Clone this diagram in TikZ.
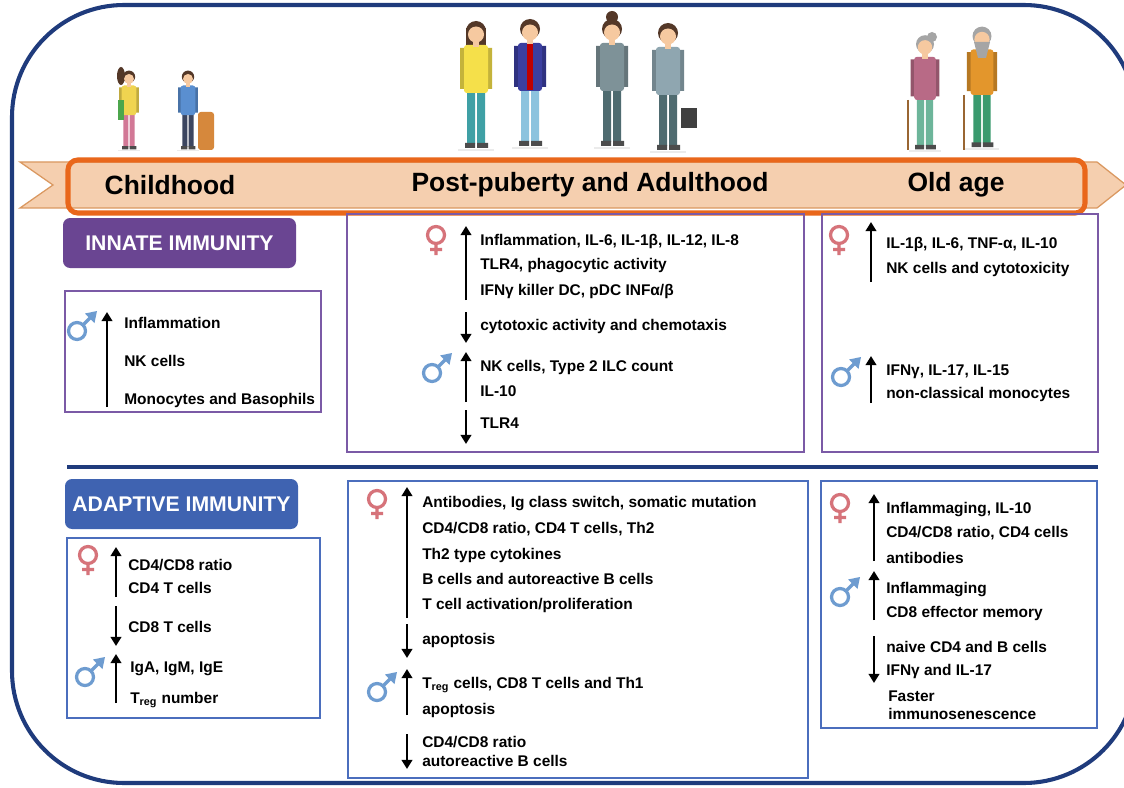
\documentclass[tikz,border=0pt]{standalone}
\usepackage{fontspec}
\setmainfont{Liberation Sans}
\usetikzlibrary{arrows.meta}

\definecolor{framenavy}{RGB}{31,59,124}
\definecolor{innatepurple}{RGB}{106,69,146}
\definecolor{innateedge}{RGB}{123,90,166}
\definecolor{adaptblue}{RGB}{63,99,177}
\definecolor{adaptedge}{RGB}{75,110,189}
\definecolor{ribbonfill}{RGB}{245,207,175}
\definecolor{ribbonedge}{RGB}{218,152,96}
\definecolor{stageorange}{RGB}{233,103,27}
\definecolor{femred}{RGB}{214,115,122}
\definecolor{malblue}{RGB}{110,156,208}
\definecolor{skin}{RGB}{246,201,160}
\definecolor{hairbrown}{RGB}{84,56,40}
\definecolor{hairgrey}{RGB}{165,165,165}
% clothes
\definecolor{girltop}{RGB}{240,212,80}
\definecolor{girlskirt}{RGB}{210,120,150}
\definecolor{boytop}{RGB}{90,143,208}
\definecolor{boyshorts}{RGB}{60,70,96}
\definecolor{bagorange}{RGB}{214,136,60}
\definecolor{yellowtop}{RGB}{245,224,74}
\definecolor{tealpants}{RGB}{63,160,165}
\definecolor{vestblue}{RGB}{59,63,160}
\definecolor{jeans}{RGB}{140,195,222}
\definecolor{greyjacket}{RGB}{126,146,152}
\definecolor{darkpants}{RGB}{79,107,112}
\definecolor{suitgrey}{RGB}{143,166,176}
\definecolor{mauve}{RGB}{184,106,134}
\definecolor{sage}{RGB}{109,181,154}
\definecolor{orangetop}{RGB}{227,150,44}
\definecolor{greenpants}{RGB}{58,154,110}

% one line of text, left edge at x, vertical middle at y
\newcommand{\tline}[4]{\node[tline] (#1) at (#2,#3) {#4};}
% sex symbols, centre of the ring at x,y
\newcommand{\femsym}[2]{\draw[femsym] (#1,#2) circle (8.5) (#1,#2+8.5) -- (#1,#2+20) (#1-6,#2+14.5) -- (#1+6,#2+14.5);}
\newcommand{\malsym}[2]{\draw[malsym] (#1,#2) circle (8.5) (#1+6,#2-6) -- (#1+15,#2-15);
  \fill[malblue] (#1+20,#2-20) -- (#1+8,#2-17.5) -- (#1+17.5,#2-8) -- cycle;}
% a simple standing figure: x, head y, scale, hair, top, trousers
\newcommand{\person}[6]{%
  \begin{scope}[shift={(#1,#2)},scale=#3]
    \fill[black!8] (-18,116) rectangle (18,118);
    \fill[#6] (-9,55) rectangle (-1,111) (1,55) rectangle (9,111);
    \fill[black!70] (-11,110) rectangle (-1,115) (1,110) rectangle (12,115);
    \fill[#5!80!black] (-16,15) rectangle (-11,56) (11,15) rectangle (16,56);
    \fill[#5,rounded corners=2pt] (-12,12) rectangle (12,60);
    \fill[skin] (-3,6) rectangle (3,14);
    \fill[#4] (0,-2) circle (10);
    \fill[skin] (0,1.5) circle (8);
  \end{scope}}

\tikzset{
  tline/.style={anchor=base west,yshift=-3.9pt,inner sep=0pt,
    font=\fontsize{11}{13}\selectfont\bfseries},
  stage/.style={font=\fontsize{18.8}{22}\selectfont\bfseries,inner sep=0pt},
  tag/.style={font=\fontsize{15.1}{18}\selectfont\bfseries,text=white},
  trend/.style={line width=1.7pt,-{Triangle[length=6.5pt,width=7.5pt]}},
  femsym/.style={femred,line width=2.3pt},
  malsym/.style={malblue,line width=2.3pt},
  innatebox/.style={innateedge,line width=1.4pt},
  adaptbox/.style={adaptedge,line width=1.4pt}
}

\begin{document}
\begin{tikzpicture}[x=0.025cm,y=-0.025cm]
\useasboundingbox (0,0) rectangle (1124,788);
\clip (0,0) rectangle (1124,788);
\fill[white] (0,0) rectangle (1124,788);

% outer frame
\draw[framenavy,line width=2.9pt,rounded corners=2.8cm] (12,5) rectangle (1136,783);

% people
\fill[hairbrown] (121,76) ellipse (4 and 9);
\person{129}{78}{0.62}{hairbrown}{girltop}{girlskirt}
\fill[green!50!black!70] (118,100) rectangle (124,120);
\person{188}{78}{0.62}{hairbrown}{boytop}{boyshorts}
\fill[bagorange,rounded corners=2pt] (198,112) rectangle (214,150);
\fill[hairbrown] (466,28) rectangle (486,70);
\person{476}{33}{1}{hairbrown}{yellowtop}{tealpants}
\person{530}{31}{1}{hairbrown}{vestblue}{jeans}
\fill[red!75!black] (527,44) rectangle (533,90);
\person{612}{31}{1}{hairbrown}{greyjacket}{darkpants}
\fill[hairbrown] (612,17) circle (6);
\person{668}{35}{1}{hairbrown}{suitgrey}{darkpants}
\fill[black!75] (681,108) rectangle (697,128);
\fill[hairgrey] (932,37) circle (5);
\person{925}{46}{0.9}{hairgrey}{mauve}{sage}
\draw[brown!80!black,line width=1.2pt] (908,100) -- (908,150);
\person{982}{38}{0.95}{hairgrey}{orangetop}{greenpants}
\fill[hairgrey] (974,42) -- (990,42) -- (986,58) -- (978,58) -- cycle;
\draw[brown!80!black,line width=1.2pt] (964,95) -- (964,150);

% age ribbon
\draw[ribbonedge,fill=ribbonfill,line width=0.9pt] (20,162) -- (1097,162) -- (1126,185)
  -- (1097,208) -- (20,208) -- (53,185) -- cycle;
\draw[stageorange,line width=3.6pt,rounded corners=7pt] (68,160) rectangle (1085,213);
\node[stage] (child) at (170,185) {Childhood};
\node[stage] (adult) at (590,185) {Post-puberty and Adulthood};
\node[stage] (old) at (956,185) {Old age};

% innate immunity
\fill[innatepurple,rounded corners=5pt] (63,218) rectangle (296,268);
\node[tag] (innate) at (179.5,243) {INNATE IMMUNITY};
\draw[innatebox] (65,291) rectangle (321,412);
\draw[innatebox] (347,214) rectangle (804,452);
\draw[innatebox] (822,214) rectangle (1098,452);

\malsym{77}{331}
\draw[trend] (107,407) -- (107,312);
\tline{inl1}{124}{323}{Inflammation}
\tline{inl2}{124}{361}{NK cells}
\tline{inl3}{124}{399}{Monocytes and Basophils}

\femsym{436}{235}
\draw[trend] (466,300) -- (466,226);
\tline{inm1}{480}{240}{Inflammation, IL-6, IL-1β, IL-12, IL-8}
\tline{inm2}{480}{264}{TLR4, phagocytic activity}
\tline{inm3}{480}{290}{IFNγ killer DC, pDC INFα/β}
\draw[trend] (466,312) -- (466,343);
\tline{inm4}{480}{325}{cytotoxic activity and chemotaxis}
\malsym{432}{373}
\draw[trend] (466,402) -- (466,352);
\tline{inm5}{480}{366}{NK cells, Type 2 ILC count}
\tline{inm6}{480}{391}{IL-10}
\draw[trend] (466,410) -- (466,444);
\tline{inm7}{480}{423}{TLR4}

\femsym{839}{235}
\draw[trend] (871,282) -- (871,222);
\tline{inr1}{886}{243}{IL-1β, IL-6, TNF-α, IL-10}
\tline{inr2}{886}{268}{NK cells and cytotoxicity}
\malsym{841}{377}
\draw[trend] (871,403) -- (871,356);
\tline{inr3}{886}{370}{IFNγ, IL-17, IL-15}
\tline{inr4}{886}{393}{non-classical monocytes}

% divider
\draw[framenavy,line width=2.9pt] (67,467) -- (1098,467);

% adaptive immunity
\fill[adaptblue,rounded corners=5pt] (65,479) rectangle (298,529);
\node[tag] (adaptive) at (181.5,504) {ADAPTIVE IMMUNITY};
\draw[adaptbox] (67,538) rectangle (320,718);
\draw[adaptbox] (348,481) rectangle (808,778);
\draw[adaptbox] (821,481) rectangle (1097,728);

\femsym{88}{555}
\draw[trend] (116,597) -- (116,547);
\tline{adl1}{128}{565}{CD4/CD8 ratio}
\tline{adl2}{128}{588}{CD4 T cells}
\draw[trend] (116,606) -- (116,646);
\tline{adl3}{128}{627}{CD8 T cells}
\malsym{85}{677}
\draw[trend] (116,703) -- (116,654);
\tline{adl4}{130}{667}{IgA, IgM, IgE}
\tline{adl5}{130}{698}{T\textsubscript{reg} number}

\femsym{377}{499}
\draw[trend] (407,618) -- (407,487);
\tline{adm1}{422}{502}{Antibodies, Ig class switch, somatic mutation}
\tline{adm2}{422}{528}{CD4/CD8 ratio, CD4 T cells, Th2}
\tline{adm3}{422}{554}{Th2 type cytokines}
\tline{adm4}{422}{579}{B cells and autoreactive B cells}
\tline{adm5}{422}{604}{T cell activation/proliferation}
\draw[trend] (407,624) -- (407,658);
\tline{adm6}{422}{639}{apoptosis}
\malsym{377}{692}
\draw[trend] (407,715) -- (407,669);
\tline{adm7}{422}{683}{T\textsubscript{reg} cells, CD8 T cells and Th1}
\tline{adm8}{422}{709}{apoptosis}
\draw[trend] (407,734) -- (407,769);
\tline{adm9}{422}{742}{CD4/CD8 ratio}
\tline{adm10}{422}{761}{autoreactive B cells}

\femsym{840}{503}
\draw[trend] (874,561) -- (874,494);
\tline{adr1}{886}{508}{Inflammaging, IL-10}
\tline{adr2}{886}{532}{CD4/CD8 ratio, CD4 cells}
\tline{adr3}{886}{558}{antibodies}
\malsym{840}{597}
\draw[trend] (874,620) -- (874,571);
\tline{adr4}{886}{588}{Inflammaging}
\tline{adr5}{886}{612}{CD8 effector memory}
\draw[trend] (874,636) -- (874,683);
\tline{adr6}{886}{647}{naive CD4 and B cells}
\tline{adr7}{886}{670}{IFNγ and IL-17}
\tline{adr8}{888}{696}{Faster}
\tline{adr9}{888}{714}{immunosenescence}
\end{tikzpicture}
\end{document}
